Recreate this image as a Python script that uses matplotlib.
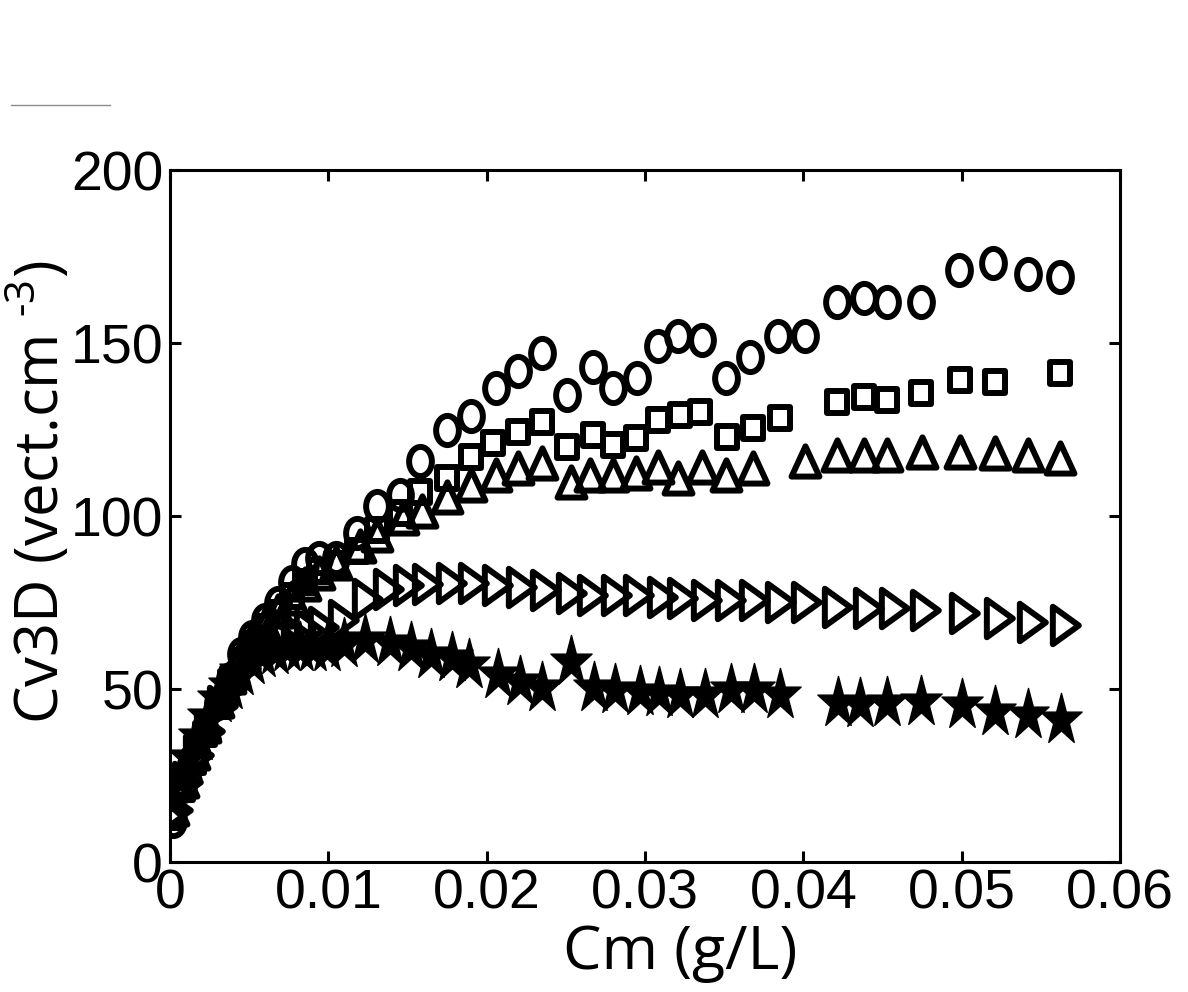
import numpy as np
import matplotlib
matplotlib.use('Agg')
import matplotlib.pyplot as plt
from matplotlib.path import Path
from matplotlib.lines import Line2D
from matplotlib.transforms import Affine2D

plt.rcParams['font.family'] = ['Liberation Sans', 'DejaVu Sans']
plt.rcParams['mathtext.fontset'] = 'custom'
plt.rcParams['mathtext.rm'] = 'Open Sans'
plt.rcParams['mathtext.it'] = 'Open Sans'

# series (Cm in g/L, Cv3D in vect.cm-3)
x_circ = [0.0002, 0.0008, 0.0015, 0.0022, 0.003, 0.0038, 0.0045, 0.0052, 0.006, 0.0068,
          0.0077, 0.0085, 0.0094, 0.0105, 0.0118, 0.0131, 0.0145, 0.0158, 0.0175, 0.019,
          0.0206, 0.022, 0.0235, 0.0251, 0.0267, 0.028, 0.0295, 0.0308, 0.0321, 0.0336,
          0.0351, 0.0366, 0.0384, 0.0401, 0.0421, 0.0438, 0.0453, 0.0474, 0.0498, 0.052,
          0.0542, 0.0562]
y_circ = [12, 22, 30, 38, 46, 53, 60, 65, 70, 75,
          81, 86, 88, 88, 95, 103, 106, 116, 125, 129,
          137, 142, 147, 135, 143, 137, 140, 149, 152, 151,
          140, 146, 152, 152, 162, 163, 162, 162, 171, 173,
          170, 169]

x_sq = [0.0002, 0.0008, 0.0015, 0.0022, 0.003, 0.0038, 0.0045, 0.0052, 0.006, 0.0068,
        0.0077, 0.0085, 0.0094, 0.0105, 0.0118, 0.0131, 0.0145, 0.0158, 0.0175, 0.019,
        0.0204, 0.022, 0.0235, 0.0251, 0.0267, 0.028, 0.0294, 0.0308, 0.0322, 0.0335,
        0.0352, 0.0368, 0.0385, 0.0421, 0.0438, 0.0453, 0.0474, 0.0499, 0.0521, 0.0562]
y_sq = [13, 21, 29, 37, 45, 52, 58, 63, 68, 72,
        77, 81, 84, 86, 90, 96, 101, 107, 111, 117,
        121, 124.3, 127.2, 120, 123.4, 120.5, 122.5, 127.7, 129.2, 130,
        122.8, 125.4, 128.3, 133, 134.4, 133.5, 135.5, 139.3, 138.7, 141.3]

x_tri = [0.0002, 0.0008, 0.0015, 0.0022, 0.003, 0.0038, 0.0045, 0.0052, 0.006, 0.0068,
         0.0077, 0.0085, 0.0094, 0.0105, 0.012, 0.0131, 0.0147, 0.0159, 0.0175, 0.019,
         0.0206, 0.022, 0.0235, 0.0253, 0.0265, 0.028, 0.0294, 0.0308, 0.0321, 0.0336,
         0.0351, 0.0368, 0.0401, 0.0421, 0.0438, 0.0453, 0.0475, 0.0499, 0.0521, 0.0542,
         0.0562]
y_tri = [14, 22, 30, 38, 45, 52, 58, 63, 67, 71,
         75, 79, 82, 85, 90, 93, 98, 100, 104, 107.5,
         110.4, 112.4, 113.9, 108.4, 110.4, 110.4, 111, 112.7, 109.5, 112.7,
         110.4, 112.4, 114.5, 116.2, 116.2, 116.2, 117, 117, 116.8, 116.2,
         115.3]

x_rtri = [0.0002, 0.0008, 0.0015, 0.0022, 0.003, 0.0038, 0.0045, 0.0052, 0.006, 0.0068,
          0.0077, 0.0085, 0.0094, 0.0107, 0.0122, 0.0135, 0.0148, 0.016, 0.0175, 0.0189,
          0.0204, 0.0219, 0.0234, 0.0251, 0.0264, 0.0279, 0.0293, 0.0308, 0.0321, 0.0336,
          0.0351, 0.0366, 0.0383, 0.0399, 0.0419, 0.0438, 0.0455, 0.0474, 0.0499, 0.0521,
          0.0542, 0.0563]
y_rtri = [15, 23, 31, 38, 45, 51, 56, 60, 63, 65,
          66, 67, 68, 70, 76, 79, 80, 80.5, 80.6, 80.6,
          80.1, 79.5, 78.6, 77.7, 77.2, 77.2, 77.2, 76.6, 76.3, 75.7,
          75.7, 75.7, 75.1, 75.1, 73.7, 73.4, 73.4, 72.8, 72, 70.5,
          69.4, 68.5]

x_star = [0.0001, 0.0006, 0.0012, 0.0018, 0.0024, 0.003, 0.0037, 0.0044, 0.0051, 0.0058,
          0.0066, 0.0074, 0.0082, 0.009, 0.0099, 0.011, 0.0123, 0.0139, 0.0152, 0.0165,
          0.0178, 0.0189, 0.0207, 0.0221, 0.0235, 0.0253, 0.0268, 0.0281, 0.0297, 0.0309,
          0.0322, 0.0338, 0.0354, 0.0369, 0.0385, 0.0422, 0.0436, 0.0453, 0.0474, 0.05,
          0.0521, 0.0542, 0.0563]
y_star = [18, 24, 30, 36, 42, 47, 51, 55, 58, 60,
          61, 62, 62, 62, 62, 63, 64.2, 63.3, 61.8, 59.8,
          59, 56.9, 54, 52, 50.3, 57.8, 50.3, 49.7, 49.1, 48.8,
          48.3, 48.3, 49.7, 49.7, 48.3, 46, 45.7, 46, 46.2, 45.4,
          43.4, 42.5, 41]

xticks = [0, 0.01, 0.02, 0.03, 0.04, 0.05, 0.06]
xtick_labels = ['0', '0.01', '0.02', '0.03', '0.04', '0.05', '0.06']
yticks = [0, 50, 100, 150, 200]


# the original picture is squeezed sideways, so markers are narrower than tall
def squeezed(path, sx=0.8):
    v = path.vertices.copy()
    v[:, 0] *= sx
    return Path(v, path.codes)

circ = squeezed(Path.unit_circle(), 0.78)
sq = squeezed(Path.unit_rectangle().transformed(Affine2D().translate(-0.5, -0.5)), 0.88)
tri = squeezed(Path.unit_regular_polygon(3), 0.8)
rtri = squeezed(Path.unit_regular_polygon(3).transformed(Affine2D().rotate_deg(-90)), 0.8)
star = squeezed(Path.unit_regular_star(5, 0.381966), 0.8)

fig = plt.figure(figsize=(11.88, 9.92), dpi=100)
ax = fig.add_axes([0.1431, 0.131, 0.7997, 0.6976])

ax.plot(x_circ, y_circ, ls='none', marker=circ, ms=21, mfc='none', mec='black', mew=4.3)
ax.plot(x_sq, y_sq, ls='none', marker=sq, ms=16, mfc='none', mec='black', mew=4.3)
ax.plot(x_tri, y_tri, ls='none', marker=tri, ms=29, mfc='none', mec='black', mew=4.3)
ax.plot(x_rtri, y_rtri, ls='none', marker=rtri, ms=27, mfc='none', mec='black', mew=4.3)
ax.plot(x_star, y_star, ls='none', marker=star, ms=39, mfc='black', mec='black', mew=1)

ax.set_xlim(0, 0.06)
ax.set_ylim(0, 200)
ax.set_xticks(xticks)
ax.set_xticklabels(xtick_labels)
ax.set_yticks(yticks)
ax.tick_params(direction='in', length=8, width=2.2, labelsize=40, pad=5,
               top=True, right=True)
for s in ax.spines.values():
    s.set_linewidth(2.2)

ax.set_xlabel('Cm (g/L)', fontsize=44, family='Open Sans')
ax.xaxis.set_label_coords(0.537, -0.088)
ax.xaxis.label.set_va('top')
ax.set_ylabel(r'Cv3D (vect.cm $^{\text{-3}}$)', fontsize=43, family='Open Sans')
ax.yaxis.set_label_coords(-0.102, 0.535)

# thin grey stroke in the top-left corner of the original
fig.add_artist(Line2D([0.0093, 0.0926], [0.894, 0.894], color='#8c8c8c', lw=1))

fig.savefig('out.png', dpi=100)
